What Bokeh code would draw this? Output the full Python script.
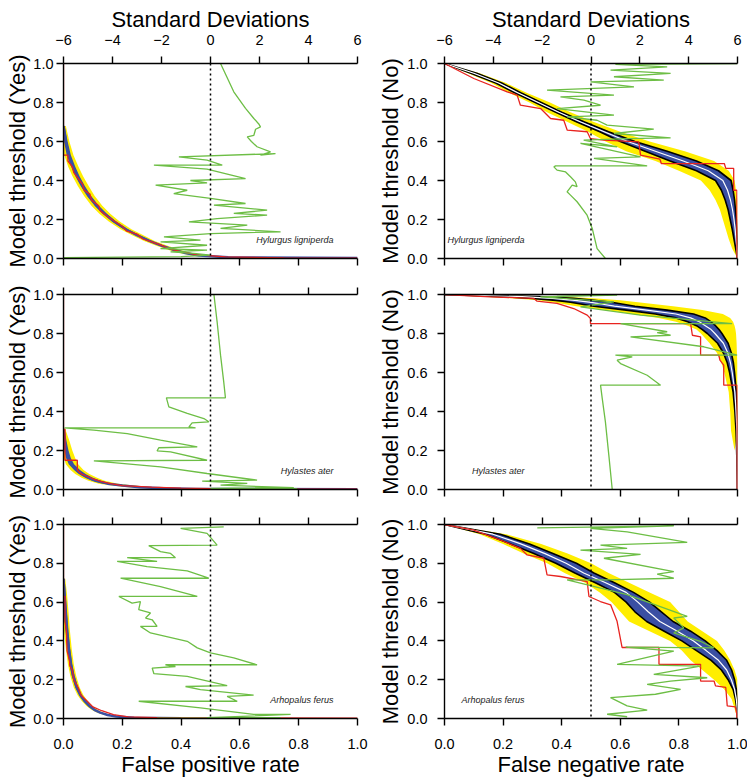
from bokeh.plotting import figure
from bokeh.models import Range1d, LinearAxis, FixedTicker, NumeralTickFormatter, Span
from bokeh.layouts import column, row
from bokeh.embed import file_html
from bokeh.resources import INLINE
from bokeh.core.properties import value

FONT = "Liberation Sans"
YELLOW = "#FFEE00"
BLUE = "#3A4FA3"
RED = "#E8231F"
GREEN = "#6DBE45"

X_TICKS = [0.0, 0.2, 0.4, 0.6, 0.8, 1.0]
Y_TICKS = [0.0, 0.2, 0.4, 0.6, 0.8, 1.0]
SD_TICKS = [-6, -4, -2, 0, 2, 4, 6]

SPECIES = ["Hylurgus ligniperda", "Hylastes ater", "Arhopalus ferus"]

# ---------------- Hylurgus ligniperda : Yes ----------------
HL_YES_Y = [0.68, 0.60, 0.53, 0.47, 0.42, 0.37, 0.32, 0.27, 0.23, 0.19, 0.15, 0.12, 0.09, 0.065, 0.045, 0.03, 0.015, 0.006, 0.002]
HL_YES_MEAN = [0.0, 0.008, 0.018, 0.033, 0.048, 0.066, 0.087, 0.113, 0.140, 0.172, 0.212, 0.250, 0.292, 0.335, 0.375, 0.410, 0.46, 0.56, 1.0]
HL_YES_BLUE_LO = [0.0, 0.002, 0.011, 0.026, 0.041, 0.059, 0.080, 0.106, 0.133, 0.165, 0.205, 0.243, 0.285, 0.327, 0.366, 0.400, 0.445, 0.53, 0.9]
HL_YES_BLUE_HI = [0.004, 0.014, 0.025, 0.040, 0.055, 0.073, 0.094, 0.120, 0.147, 0.179, 0.219, 0.257, 0.300, 0.343, 0.385, 0.420, 0.475, 0.59, 1.0]
HL_YES_YEL_LO = [0.0, 0.0, 0.003, 0.016, 0.031, 0.049, 0.070, 0.095, 0.122, 0.154, 0.194, 0.232, 0.274, 0.316, 0.355, 0.390, 0.435, 0.52, 0.85]
HL_YES_YEL_HI = [0.008, 0.02, 0.034, 0.051, 0.067, 0.086, 0.106, 0.132, 0.159, 0.191, 0.231, 0.27, 0.31, 0.354, 0.395, 0.43, 0.485, 0.6, 1.0]
HL_YES_RED_X = [0.0, 0.0, 0.015, 0.015, 0.03, 0.035, 0.05, 0.065, 0.07, 0.09, 0.095, 0.12, 0.125, 0.15, 0.175, 0.2, 0.215, 0.25, 0.27, 0.3, 0.33, 0.36, 0.4, 0.45, 0.55, 0.75, 1.0]
HL_YES_RED_Y = [1.0, 0.53, 0.53, 0.50, 0.47, 0.44, 0.41, 0.38, 0.35, 0.33, 0.30, 0.27, 0.245, 0.215, 0.19, 0.165, 0.14, 0.125, 0.10, 0.085, 0.07, 0.05, 0.035, 0.02, 0.008, 0.003, 0.002]
HL_YES_GREEN_SD = [0.41, 0.95, 1.43, 1.77, 1.97, 2.04, 1.84, 1.77, 1.5, 1.67, 1.9, 2.45, 2.04, 2.65, -1.29, -0.14, 0.48, -2.31, -0.14, 1.43, -0.82, -0.14, -2.24, -0.95, -1.5, 0.0, 1.43, 0.14, 2.31, 0.95, 2.31, 0.27, -0.88, 1.5, 0.41, 2.86, 0.0, -1.9, -0.41, -2.04, -0.14, -2.04, -0.14, -1.63, -0.68, 0.0, -1.2, -6.0]
HL_YES_GREEN_Y = [1.0, 0.855, 0.77, 0.718, 0.69, 0.675, 0.663, 0.632, 0.624, 0.6, 0.573, 0.547, 0.53, 0.538, 0.521, 0.504, 0.479, 0.479, 0.458, 0.41, 0.40, 0.388, 0.376, 0.35, 0.333, 0.308, 0.282, 0.274, 0.248, 0.231, 0.222, 0.205, 0.188, 0.171, 0.154, 0.137, 0.128, 0.111, 0.094, 0.085, 0.068, 0.051, 0.043, 0.034, 0.026, 0.017, 0.01, 0.004]

# ---------------- Hylurgus ligniperda : No ----------------
HL_NO_Y = [1.0, 0.95, 0.9, 0.85, 0.8, 0.75, 0.7, 0.65, 0.6, 0.55, 0.5, 0.45, 0.4, 0.35, 0.3, 0.25, 0.2, 0.15, 0.1, 0.05, 0.0]
HL_NO_MEAN = [0.0, 0.10, 0.185, 0.25, 0.32, 0.39, 0.465, 0.545, 0.625, 0.72, 0.815, 0.9, 0.95, 0.966, 0.976, 0.983, 0.988, 0.992, 0.995, 0.998, 1.0]
HL_NO_BLUE_LO = [0.0, 0.09, 0.175, 0.24, 0.31, 0.38, 0.452, 0.53, 0.60, 0.685, 0.77, 0.86, 0.925, 0.945, 0.958, 0.968, 0.975, 0.982, 0.988, 0.994, 1.0]
HL_NO_BLUE_HI = [0.0, 0.11, 0.195, 0.26, 0.33, 0.40, 0.478, 0.56, 0.65, 0.76, 0.86, 0.935, 0.978, 0.985, 0.99, 0.993, 0.996, 0.998, 0.999, 1.0, 1.0]
HL_NO_YEL_LO = [0.0, 0.08, 0.16, 0.22, 0.29, 0.35, 0.42, 0.49, 0.55, 0.62, 0.72, 0.80, 0.875, 0.905, 0.925, 0.94, 0.95, 0.96, 0.97, 0.982, 1.0]
HL_NO_YEL_HI = [0.0, 0.12, 0.21, 0.28, 0.36, 0.43, 0.51, 0.60, 0.70, 0.82, 0.92, 0.97, 0.99, 0.995, 1.0, 1.0, 1.0, 1.0, 1.0, 1.0, 1.0]
HL_NO_RED_X = [0.0, 0.1, 0.214, 0.248, 0.259, 0.328, 0.362, 0.407, 0.419, 0.487, 0.498, 0.544, 0.663, 0.669, 0.735, 0.74, 0.955, 0.96, 0.987, 0.987, 0.998, 0.998]
HL_NO_RED_Y = [1.0, 0.923, 0.855, 0.838, 0.786, 0.769, 0.718, 0.709, 0.658, 0.65, 0.615, 0.607, 0.598, 0.53, 0.51, 0.487, 0.487, 0.462, 0.462, 0.35, 0.35, 0.0]
HL_NO_GREEN_SD = [0.59, 0.25, 0.05, -0.16, -0.57, -0.84, -0.98, -0.77, -0.57, -0.64, -0.84, -1.04, -1.39, -1.52, -1.45, 2.3, 0.12, 2.03, -0.43, 1.07, -0.3, 1.48, 3.26, 0.94, 2.57, 0.66, 0.25, -0.98, 0.94, -1.39, 0.39, -0.29, -1.25, 0.94, -1.8, 1.76, -0.02, 2.98, 0.94, 3.26, 0.8, 3.12, 1.0, 6.0]
HL_NO_GREEN_Y = [0.0, 0.051, 0.154, 0.222, 0.291, 0.325, 0.342, 0.376, 0.368, 0.393, 0.419, 0.444, 0.453, 0.47, 0.475, 0.475, 0.513, 0.521, 0.59, 0.573, 0.607, 0.615, 0.619, 0.641, 0.663, 0.684, 0.709, 0.726, 0.735, 0.769, 0.786, 0.812, 0.829, 0.838, 0.863, 0.88, 0.906, 0.915, 0.932, 0.949, 0.966, 0.983, 0.995, 1.0]

# ---------------- Hylastes ater : Yes ----------------
HA_YES_Y = [0.31, 0.25, 0.2, 0.16, 0.13, 0.1, 0.08, 0.06, 0.045, 0.03, 0.02, 0.012, 0.006, 0.003, 0.001]
HA_YES_MEAN = [0.0, 0.004, 0.009, 0.016, 0.026, 0.045, 0.062, 0.086, 0.11, 0.15, 0.2, 0.26, 0.34, 0.45, 1.0]
HA_YES_BLUE_LO = [0.0, 0.0, 0.003, 0.009, 0.018, 0.036, 0.052, 0.074, 0.097, 0.135, 0.18, 0.24, 0.31, 0.42, 0.9]
HA_YES_BLUE_HI = [0.004, 0.01, 0.017, 0.025, 0.036, 0.056, 0.075, 0.1, 0.126, 0.168, 0.22, 0.28, 0.37, 0.48, 1.0]
HA_YES_YEL_LO = [0.0, 0.0, 0.0, 0.002, 0.008, 0.024, 0.04, 0.062, 0.085, 0.12, 0.165, 0.22, 0.29, 0.4, 0.85]
HA_YES_YEL_HI = [0.006, 0.02, 0.03, 0.04, 0.05, 0.068, 0.088, 0.114, 0.14, 0.185, 0.24, 0.3, 0.39, 0.5, 1.0]
HA_YES_RED_X = [0.0, 0.0, 0.005, 0.005, 0.047, 0.047, 0.06, 0.08, 0.1, 0.13, 0.16, 0.2, 0.3, 0.4, 0.5, 0.7, 1.0]
HA_YES_RED_Y = [1.0, 0.31, 0.31, 0.15, 0.15, 0.10, 0.08, 0.068, 0.055, 0.04, 0.03, 0.02, 0.012, 0.007, 0.004, 0.002, 0.002]
HA_YES_GREEN_SD = [0.14, 0.27, 0.41, 0.54, 0.61, -1.8, -1.7, -0.95, -0.27, -0.07, -0.75, -0.88, -0.61, -5.96, -4.76, -3.4, -2.04, -0.54, -2.11, -2.18, -1.63, -0.14, -4.76, -2.04, -0.14, 1.9, -0.34, 1.5, 0.41, 3.4, 0.0, 3.54]
HA_YES_GREEN_Y = [1.0, 0.86, 0.689, 0.552, 0.47, 0.47, 0.424, 0.39, 0.364, 0.347, 0.342, 0.321, 0.316, 0.316, 0.304, 0.287, 0.253, 0.219, 0.214, 0.198, 0.193, 0.150, 0.147, 0.116, 0.082, 0.048, 0.043, 0.031, 0.022, 0.01, 0.006, 0.004]

# ---------------- Hylastes ater : No ----------------
HA_NO_Y = [1.0, 0.99, 0.98, 0.97, 0.96, 0.95, 0.94, 0.92, 0.9, 0.88, 0.86, 0.84, 0.82, 0.8, 0.75, 0.7, 0.65, 0.6, 0.5, 0.4, 0.3, 0.2, 0.1, 0.0]
HA_NO_MEAN = [0.0, 0.25, 0.37, 0.445, 0.50, 0.54, 0.58, 0.69, 0.79, 0.84, 0.87, 0.89, 0.91, 0.923, 0.952, 0.967, 0.976, 0.982, 0.991, 0.995, 0.998, 0.999, 1.0, 1.0]
HA_NO_BLUE_LO = [0.0, 0.18, 0.30, 0.38, 0.43, 0.47, 0.51, 0.62, 0.72, 0.79, 0.83, 0.86, 0.88, 0.897, 0.932, 0.952, 0.965, 0.973, 0.985, 0.991, 0.995, 0.997, 0.999, 1.0]
HA_NO_BLUE_HI = [0.0, 0.32, 0.44, 0.51, 0.57, 0.61, 0.65, 0.76, 0.85, 0.89, 0.91, 0.925, 0.937, 0.947, 0.968, 0.979, 0.986, 0.99, 0.996, 0.998, 0.999, 1.0, 1.0, 1.0]
HA_NO_YEL_LO = [0.0, 0.12, 0.24, 0.32, 0.37, 0.41, 0.45, 0.55, 0.64, 0.73, 0.79, 0.83, 0.86, 0.875, 0.905, 0.93, 0.945, 0.955, 0.97, 0.975, 0.978, 0.99, 1.0, 1.0]
HA_NO_YEL_HI = [0.0, 0.40, 0.52, 0.60, 0.66, 0.72, 0.78, 0.88, 0.95, 0.975, 0.985, 0.99, 0.993, 0.995, 0.997, 0.998, 1.0, 1.0, 1.0, 1.0, 1.0, 0.99, 1.0, 1.0]
HA_NO_RED_X = [0.0, 0.157, 0.305, 0.316, 0.384, 0.441, 0.487, 0.498, 0.498, 0.84, 0.846, 0.874, 0.874, 0.936, 0.94, 0.953, 0.953, 0.999, 0.999]
HA_NO_RED_Y = [1.0, 0.988, 0.98, 0.966, 0.954, 0.928, 0.894, 0.877, 0.851, 0.851, 0.791, 0.783, 0.689, 0.689, 0.663, 0.638, 0.535, 0.535, 0.0]
HA_NO_GREEN_SD = [0.87, 0.73, 0.59, 0.46, 0.39, 2.85, 2.3, 1.21, 1.07, 1.69, 1.0, 5.99, 4.62, 1.62, 3.26, 2.71, 3.12, 1.21, 5.78, 2.03, -0.43, 0.94, -2.07, 1.07, -1.4]
HA_NO_GREEN_Y = [0.0, 0.176, 0.347, 0.467, 0.535, 0.535, 0.586, 0.646, 0.663, 0.68, 0.689, 0.689, 0.732, 0.783, 0.791, 0.805, 0.809, 0.851, 0.851, 0.894, 0.937, 0.962, 0.988, 0.997, 1.0]

# ---------------- Arhopalus ferus : Yes ----------------
AF_YES_Y = [0.72, 0.64, 0.55, 0.45, 0.36, 0.28, 0.22, 0.16, 0.12, 0.09, 0.065, 0.045, 0.03, 0.018, 0.01, 0.004, 0.001]
AF_YES_MEAN = [0.0, 0.003, 0.007, 0.012, 0.018, 0.025, 0.033, 0.045, 0.058, 0.072, 0.088, 0.105, 0.125, 0.15, 0.18, 0.24, 0.4]
AF_YES_BLUE_LO = [0.0, 0.0, 0.002, 0.007, 0.013, 0.02, 0.028, 0.04, 0.053, 0.067, 0.083, 0.1, 0.12, 0.145, 0.175, 0.23, 0.38]
AF_YES_BLUE_HI = [0.004, 0.008, 0.012, 0.017, 0.023, 0.03, 0.038, 0.05, 0.063, 0.077, 0.093, 0.11, 0.13, 0.155, 0.185, 0.25, 0.42]
AF_YES_YEL_LO = [0.0, 0.0, 0.0, 0.002, 0.008, 0.015, 0.023, 0.035, 0.048, 0.062, 0.078, 0.095, 0.115, 0.14, 0.17, 0.22, 0.36]
AF_YES_YEL_HI = [0.006, 0.012, 0.017, 0.022, 0.028, 0.035, 0.043, 0.055, 0.068, 0.082, 0.098, 0.115, 0.135, 0.16, 0.19, 0.26, 0.44]
AF_YES_RED_X = [0.0, 0.0, 0.005, 0.005, 0.01, 0.012, 0.02, 0.022, 0.03, 0.035, 0.05, 0.06, 0.08, 0.1, 0.13, 0.17, 0.22, 0.35, 1.0]
AF_YES_RED_Y = [1.0, 0.63, 0.63, 0.5, 0.45, 0.35, 0.30, 0.27, 0.25, 0.2, 0.16, 0.12, 0.09, 0.06, 0.04, 0.02, 0.008, 0.003, 0.002]
AF_YES_GREEN_SD = [0.54, -1.22, -0.14, 0.27, -2.52, -2.04, -1.63, -1.43, -3.4, -2.18, -3.81, -2.59, -0.95, -0.07, -3.67, -2.04, -0.54, -3.74, -3.2, -2.86, -2.93, -2.45, -2.65, -2.38, -2.18, -2.86, -2.45, -0.95, -0.54, 0.0, 0.95, 1.9, -1.84, -1.43, -2.38, -2.31, -0.95, 0.68, -1.02, -0.41, 1.76, 0.68, 1.09, -2.93, -0.41, 1.76, 3.27, -0.14, 2.86, -2.18]
AF_YES_GREEN_Y = [0.988, 0.98, 0.954, 0.894, 0.891, 0.86, 0.851, 0.829, 0.829, 0.81, 0.81, 0.783, 0.761, 0.723, 0.723, 0.68, 0.629, 0.629, 0.595, 0.603, 0.561, 0.544, 0.518, 0.509, 0.475, 0.475, 0.441, 0.398, 0.364, 0.338, 0.313, 0.277, 0.277, 0.268, 0.26, 0.231, 0.217, 0.169, 0.165, 0.149, 0.12, 0.114, 0.089, 0.089, 0.055, 0.021, 0.021, 0.004, 0.004, 0.002]

# ---------------- Arhopalus ferus : No ----------------
AF_NO_Y = [1.0, 0.95, 0.9, 0.85, 0.8, 0.75, 0.7, 0.65, 0.6, 0.55, 0.5, 0.45, 0.4, 0.35, 0.3, 0.25, 0.2, 0.15, 0.1, 0.05, 0.0]
AF_NO_MEAN = [0.0, 0.165, 0.26, 0.343, 0.415, 0.475, 0.55, 0.62, 0.66, 0.695, 0.735, 0.795, 0.85, 0.893, 0.935, 0.963, 0.979, 0.99, 0.996, 0.999, 1.0]
AF_NO_BLUE_LO = [0.0, 0.14, 0.225, 0.305, 0.38, 0.445, 0.515, 0.58, 0.62, 0.65, 0.69, 0.75, 0.81, 0.86, 0.91, 0.945, 0.968, 0.985, 0.993, 0.998, 1.0]
AF_NO_BLUE_HI = [0.0, 0.19, 0.29, 0.37, 0.45, 0.51, 0.58, 0.645, 0.70, 0.74, 0.78, 0.84, 0.89, 0.93, 0.963, 0.98, 0.99, 0.996, 0.999, 1.0, 1.0]
AF_NO_YEL_LO = [0.0, 0.12, 0.2, 0.27, 0.35, 0.41, 0.48, 0.53, 0.57, 0.60, 0.63, 0.70, 0.77, 0.81, 0.84, 0.88, 0.92, 0.955, 0.98, 0.99, 1.0]
AF_NO_YEL_HI = [0.0, 0.21, 0.33, 0.42, 0.50, 0.56, 0.63, 0.70, 0.77, 0.80, 0.83, 0.88, 0.93, 0.955, 0.975, 0.99, 1.0, 1.0, 1.0, 1.0, 1.0]
AF_NO_RED_X = [0.0, 0.1, 0.146, 0.191, 0.259, 0.282, 0.339, 0.35, 0.396, 0.487, 0.493, 0.532, 0.567, 0.589, 0.606, 0.732, 0.732, 0.874, 0.874, 0.92, 0.925, 0.96, 0.965, 0.993, 0.998, 0.998]
AF_NO_RED_Y = [1.0, 0.971, 0.945, 0.92, 0.877, 0.843, 0.826, 0.74, 0.732, 0.706, 0.629, 0.603, 0.586, 0.501, 0.366, 0.366, 0.279, 0.279, 0.193, 0.193, 0.168, 0.16, 0.065, 0.06, 0.02, 0.0]
AF_NO_GREEN_SD = [-2.2, 3.39, -0.02, 1.48, 3.94, 0.39, 1.48, -0.43, 2.03, 0.53, 3.39, 2.71, 3.39, 0.66, -0.98, 1.48, 3.94, 3.39, 3.8, 3.39, 4.48, 5.03, 1.42, 3.39, 1.07, 4.48, 2.57, 4.76, 3.26, 2.3, 3.67, 2.64, 0.8, 1.48, 2.3, 0.66, 1.48]
AF_NO_GREEN_Y = [0.983, 0.993, 0.98, 0.962, 0.908, 0.894, 0.877, 0.868, 0.846, 0.826, 0.757, 0.744, 0.723, 0.715, 0.715, 0.638, 0.526, 0.518, 0.467, 0.441, 0.398, 0.364, 0.368, 0.347, 0.279, 0.27, 0.227, 0.21, 0.193, 0.176, 0.15, 0.125, 0.108, 0.065, 0.043, 0.022, 0.009]


def style_axis(ax, show_labels, label_standoff=10, title=None, title_standoff=0):
    ax.axis_line_color = "black"
    ax.axis_line_width = 1.4
    ax.major_tick_line_color = "black"
    ax.major_tick_line_width = 1.4
    ax.major_tick_in = 0
    ax.major_tick_out = 7
    ax.minor_tick_line_color = None
    ax.major_label_text_font = FONT
    if show_labels:
        ax.major_label_text_color = "black"
        ax.major_label_text_font_size = "14.5px"
        ax.major_label_standoff = label_standoff
    else:
        ax.major_label_text_color = None
        ax.major_label_text_font_size = "1px"
        ax.major_label_standoff = 0
    ax.axis_label_text_font = FONT
    ax.axis_label_text_font_size = "22px"
    ax.axis_label_text_font_style = "normal"
    ax.axis_label_text_color = "black"
    ax.axis_label_standoff = title_standoff
    if title:
        ax.axis_label = title


def panel(row_i, is_yes, name, ys, mean, blo, bhi, ylo, yhi, rx, ry, gsd, gy):
    heights = [276, 231, 272]
    tops = [63, 18, 17]
    bottoms = [18, 18, 60]
    p = figure(
        width=370 if is_yes else 377,
        height=heights[row_i],
        x_range=Range1d(0, 1), y_range=Range1d(0, 1),
        output_backend="svg", toolbar_location=None,
        min_border_left=63 if is_yes else 74,
        min_border_right=13 if is_yes else 10,
        min_border_top=tops[row_i], min_border_bottom=bottoms[row_i],
    )
    p.extra_x_ranges = {"sd": Range1d(-6, 6)}
    p.xgrid.visible = False
    p.ygrid.visible = False
    p.outline_line_color = None
    p.background_fill_color = "white"
    p.border_fill_color = "white"

    xa = p.xaxis[0]
    xa.ticker = FixedTicker(ticks=X_TICKS)
    xa.formatter = NumeralTickFormatter(format="0.0")
    style_axis(xa, row_i == 2, 13,
               ("False positive rate" if is_yes else "False negative rate") if row_i == 2 else None, 0)

    ya = p.yaxis[0]
    ya.ticker = FixedTicker(ticks=Y_TICKS)
    ya.formatter = NumeralTickFormatter(format="0.0")
    if is_yes:
        style_axis(ya, True, 3, "Model threshold (Yes)", 0)
    else:
        style_axis(ya, True, 10, "Model threshold (No)", 1)

    top = LinearAxis(x_range_name="sd", ticker=FixedTicker(ticks=SD_TICKS))
    style_axis(top, row_i == 0, 12, "Standard Deviations" if row_i == 0 else None, 0)
    p.add_layout(top, "above")

    # bands
    p.harea(x1=ylo, x2=yhi, y=ys, fill_color=YELLOW, fill_alpha=1.0)
    p.harea(x1=blo, x2=bhi, y=ys, fill_color=BLUE, fill_alpha=1.0)
    if is_yes:
        p.line(x=mean, y=ys, line_color=BLUE, line_width=2.5)
    else:
        p.line(x=blo, y=ys, line_color="black", line_width=1.6)
        p.line(x=bhi, y=ys, line_color="black", line_width=1.6)
        p.line(x=mean, y=ys, line_color="white", line_width=1.2)

    p.line(x=rx, y=ry, line_color=RED, line_width=1.3)
    p.line(x=gsd, y=gy, line_color=GREEN, line_width=1.3, x_range_name="sd")

    p.add_layout(Span(location=0.5, dimension="height", line_color="black",
                      line_dash="2 3", line_width=1.5))

    p.text(x=[0.918 if is_yes else 0.273], y=[0.097], text=[name],
           text_font=value(FONT), text_font_style="italic", text_font_size="9px",
           text_align="right", text_baseline="middle", text_color="#222222")
    return p


p1 = panel(0, True, SPECIES[0], HL_YES_Y, HL_YES_MEAN, HL_YES_BLUE_LO, HL_YES_BLUE_HI,
           HL_YES_YEL_LO, HL_YES_YEL_HI, HL_YES_RED_X, HL_YES_RED_Y, HL_YES_GREEN_SD, HL_YES_GREEN_Y)
p2 = panel(0, False, SPECIES[0], HL_NO_Y, HL_NO_MEAN, HL_NO_BLUE_LO, HL_NO_BLUE_HI,
           HL_NO_YEL_LO, HL_NO_YEL_HI, HL_NO_RED_X, HL_NO_RED_Y, HL_NO_GREEN_SD, HL_NO_GREEN_Y)
p3 = panel(1, True, SPECIES[1], HA_YES_Y, HA_YES_MEAN, HA_YES_BLUE_LO, HA_YES_BLUE_HI,
           HA_YES_YEL_LO, HA_YES_YEL_HI, HA_YES_RED_X, HA_YES_RED_Y, HA_YES_GREEN_SD, HA_YES_GREEN_Y)
p4 = panel(1, False, SPECIES[1], HA_NO_Y, HA_NO_MEAN, HA_NO_BLUE_LO, HA_NO_BLUE_HI,
           HA_NO_YEL_LO, HA_NO_YEL_HI, HA_NO_RED_X, HA_NO_RED_Y, HA_NO_GREEN_SD, HA_NO_GREEN_Y)
p5 = panel(2, True, SPECIES[2], AF_YES_Y, AF_YES_MEAN, AF_YES_BLUE_LO, AF_YES_BLUE_HI,
           AF_YES_YEL_LO, AF_YES_YEL_HI, AF_YES_RED_X, AF_YES_RED_Y, AF_YES_GREEN_SD, AF_YES_GREEN_Y)
p6 = panel(2, False, SPECIES[2], AF_NO_Y, AF_NO_MEAN, AF_NO_BLUE_LO, AF_NO_BLUE_HI,
           AF_NO_YEL_LO, AF_NO_YEL_HI, AF_NO_RED_X, AF_NO_RED_Y, AF_NO_GREEN_SD, AF_NO_GREEN_Y)

layout = column(row(p1, p2), row(p3, p4), row(p5, p6))

with open("out.html", "w") as f:
    f.write(file_html(layout, INLINE))
